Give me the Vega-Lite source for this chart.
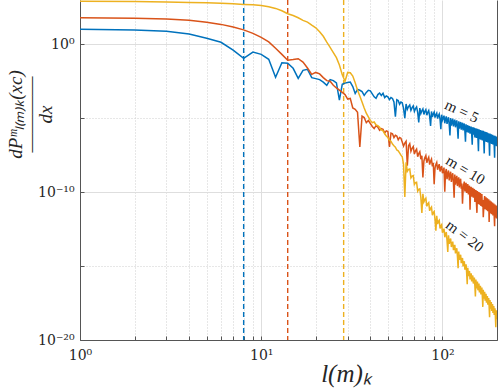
{
"$schema": "https://vega.github.io/schema/vega-lite/v6.json",
"width": 417, "height": 340,
"autosize": {"type": "none"},
"padding": {"left": 80, "top": 0, "right": 1, "bottom": 50},
"background": "white",
"config": {"view": {"stroke": null}},
"datasets": {
"curves": [
{"k":1,"m5":10.7,"m10":63,"m20":810},{"k":2,"m5":9.5,"m10":59,"m20":780},{"k":3,"m5":7.6,"m10":51,"m20":740},{"k":4,"m5":5.0,"m10":42,"m20":690},{"k":5,"m5":2.6,"m10":31,"m20":650},
{"k":6,"m5":1.38,"m10":22.4,"m20":600},{"k":7,"m5":0.4,"m10":15.1,"m20":550},{"k":8,"m5":0.112,"m10":9.5,"m20":500},{"k":9,"m5":0.30,"m10":5.5,"m20":470},{"k":10,"m5":0.21,"m10":2.95,"m20":430},
{"k":11,"m5":0.098,"m10":1.48,"m20":350},{"k":12,"m5":0.0059,"m10":0.54,"m20":270},{"k":13,"m5":0.0575,"m10":0.21,"m20":186},{"k":14,"m5":0.0525,"m10":0.083,"m20":117},{"k":15,"m5":0.024,"m10":0.093,"m20":89},
{"k":16,"m5":0.005,"m10":0.107,"m20":63},{"k":17,"m5":0.0174,"m10":0.063,"m20":42},{"k":18,"m5":0.0204,"m10":0.025,"m20":32},{"k":19,"m5":0.0056,"m10":0.0093,"m20":20},{"k":20,"m5":0.0048,"m10":0.0126,"m20":13.2},
{"k":21,"m5":0.0041,"m10":0.01,"m20":7.1},{"k":22,"m5":0.0028,"m10":0.0056,"m20":3.5},{"k":23,"m5":0.0017,"m10":0.0035,"m20":1.41},{"k":24,"m5":0.0041,"m10":0.0032,"m20":0.63},{"k":25,"m5":0.0035,"m10":0.0017,"m20":0.28},
{"k":26,"m5":0.0025,"m10":0.00112,"m20":0.126},{"k":27,"m5":1.66e-4,"m10":7.9e-4,"m20":0.04},{"k":28,"m5":0.002,"m10":5.6e-4,"m20":8.9e-3},{"k":29,"m5":0.0024,"m10":4.0e-4,"m20":3.2e-3},{"k":30,"m5":0.0026,"m10":2.0e-4,"m20":1.26e-2},
{"k":31,"m5":0.0028,"m10":2.2e-4,"m20":1.2e-2},{"k":32,"m5":0.0014,"m10":5.0e-5,"m20":7.1e-3},{"k":33,"m5":4.7e-4,"m10":4.0e-5,"m20":2.5e-3},{"k":34,"m5":8.9e-4,"m10":2.5e-5,"m20":7.9e-4},{"k":35,"m5":7.8e-4,"m10":1.15e-7,"m20":3.2e-4},
{"k":36,"m5":6.3e-4,"m10":1.4e-5,"m20":1.26e-4},{"k":37,"m5":3.5e-4,"m10":1.12e-5,"m20":5.0e-5},{"k":38,"m5":5.6e-4,"m10":5.0e-6,"m20":2.2e-5},{"k":39,"m5":7.8e-4,"m10":7.1e-6,"m20":1.26e-5},{"k":40,"m5":7.1e-4,"m10":4.4e-6,"m20":7.2e-6},
{"k":41,"m5":4.5e-4,"m10":2.8e-6,"m20":5.0e-6},{"k":42,"m5":2.8e-4,"m10":2.0e-6,"m20":5.6e-6},{"k":43,"m5":2.2e-4,"m10":3.2e-6,"m20":3.5e-6},{"k":44,"m5":4.0e-4,"m10":2.5e-6,"m20":3.2e-6},{"k":45,"m5":5.0e-4,"m10":1.55e-6,"m20":2.5e-6},
{"k":46,"m5":3.5e-4,"m10":2.0e-6,"m20":1.6e-6},{"k":47,"m5":4.9e-4,"m10":1.8e-6,"m20":1.4e-6},{"k":48,"m5":2.5e-4,"m10":1.0e-6,"m20":8.9e-7},{"k":49,"m5":3.2e-4,"m10":1.4e-6,"m20":6.3e-7},{"k":50,"m5":2.8e-4,"m10":1.26e-6,"m20":5.0e-7},
{"k":51,"m5":1.8e-4,"m10":1.15e-7,"m20":3.2e-7},{"k":52,"m5":2.5e-4,"m10":1.0e-6,"m20":2.8e-7},{"k":53,"m5":2.2e-4,"m10":8.9e-7,"m20":1.8e-7},{"k":54,"m5":1.26e-4,"m10":5.0e-7,"m20":1.4e-7},{"k":55,"m5":1.26e-5,"m10":7.1e-7,"m20":1.12e-7},
{"k":56,"m5":1.8e-4,"m10":6.3e-7,"m20":7.1e-8},{"k":57,"m5":1.6e-4,"m10":3.5e-7,"m20":6.3e-8},{"k":58,"m5":8.9e-5,"m10":5.0e-7,"m20":4.5e-8},{"k":59,"m5":1.26e-4,"m10":4.5e-7,"m20":3.2e-8},{"k":60,"m5":1.12e-4,"m10":2.5e-7,"m20":2.5e-8},
{"k":61,"m5":4.7e-5,"m10":1.3e-7,"m20":7.4e-9},{"k":62,"m5":1.0e-5,"m10":2.1e-7,"m20":4.7e-11},{"k":63,"m5":9.3e-5,"m10":2.8e-7,"m20":1.05e-8},{"k":64,"m5":4.0e-5,"m10":6.2e-9,"m20":2.6e-9},{"k":65,"m5":6.2e-5,"m10":1.4e-7,"m20":3.5e-9},
{"k":66,"m5":7.9e-5,"m10":1.9e-7,"m20":3.7e-9},{"k":67,"m5":3.4e-5,"m10":5.8e-8,"m20":9.3e-10},{"k":68,"m5":5.2e-5,"m10":9.3e-8,"m20":1.23e-9},{"k":69,"m5":6.8e-5,"m10":1.23e-7,"m20":1.32e-9},{"k":70,"m5":2.9e-5,"m10":3.8e-8,"m20":3.3e-10},
{"k":71,"m5":4.5e-5,"m10":6.2e-8,"m20":4.4e-10},{"k":72,"m5":5.8e-5,"m10":8.1e-8,"m20":4.7e-10},{"k":73,"m5":2.5e-5,"m10":2.5e-8,"m20":1.17e-10},{"k":74,"m5":5.2e-6,"m10":4.1e-8,"m20":1.55e-10},{"k":75,"m5":4.9e-5,"m10":5.4e-8,"m20":1.66e-10},
{"k":76,"m5":2.1e-5,"m10":1.7e-8,"m20":4.4e-11},{"k":77,"m5":3.2e-5,"m10":2.9e-8,"m20":3.9e-12},{"k":78,"m5":4.3e-5,"m10":1.0e-9,"m20":7.8e-11},{"k":79,"m5":1.8e-5,"m10":1.3e-8,"m20":2.2e-11},{"k":80,"m5":2.9e-5,"m10":2.2e-8,"m20":3.2e-11},
{"k":81,"m5":3.8e-5,"m10":3.0e-8,"m20":3.9e-11},{"k":82,"m5":1.6e-5,"m10":9.8e-9,"m20":1.1e-11},{"k":83,"m5":2.5e-5,"m10":1.66e-8,"m20":1.6e-11},{"k":84,"m5":3.3e-5,"m10":2.3e-8,"m20":1.95e-11},{"k":85,"m5":1.4e-5,"m10":7.4e-9,"m20":5.5e-12},
{"k":86,"m5":3.0e-6,"m10":1.26e-8,"m20":8.1e-12},{"k":87,"m5":2.9e-5,"m10":1.74e-8,"m20":9.8e-12},{"k":88,"m5":1.23e-5,"m10":5.6e-9,"m20":2.75e-12},{"k":89,"m5":1.95e-5,"m10":9.8e-9,"m20":4.2e-12},{"k":90,"m5":2.6e-5,"m10":3.4e-10,"m20":5.0e-12},
{"k":91,"m5":1.1e-5,"m10":4.4e-9,"m20":1.4e-12},{"k":92,"m5":1.7e-5,"m10":7.4e-9,"m20":2.5e-13},{"k":93,"m5":2.2e-5,"m10":1.02e-8,"m20":2.5e-12},{"k":94,"m5":9.5e-6,"m10":3.3e-9,"m20":7.1e-13},{"k":95,"m5":1.5e-5,"m10":5.6e-9,"m20":1.05e-12},
{"k":96,"m5":1.95e-5,"m10":7.8e-9,"m20":1.26e-12},{"k":97,"m5":8.5e-6,"m10":2.5e-9,"m20":3.5e-13},{"k":98,"m5":1.8e-6,"m10":4.3e-9,"m20":5.2e-13},{"k":99,"m5":1.74e-5,"m10":5.9e-9,"m20":6.3e-13},{"k":100,"m5":7.4e-6,"m10":1.9e-9,"m20":1.8e-13},
{"k":101,"m5":1.0e-5,"m10":2.7e-9,"m20":2.5e-13},{"k":102,"m5":1.5e-5,"m10":4.6e-9,"m20":3.4e-13},{"k":103,"m5":4.6e-6,"m10":1.07e-10,"m20":8.9e-14},{"k":104,"m5":8.9e-6,"m10":2.2e-9,"m20":1.5e-13},{"k":105,"m5":1.35e-5,"m10":3.7e-9,"m20":2.0e-13},
{"k":106,"m5":4.1e-6,"m10":7.6e-10,"m20":5.4e-14},{"k":107,"m5":7.8e-6,"m10":1.74e-9,"m20":9.1e-15},{"k":108,"m5":1.17e-5,"m10":2.95e-9,"m20":1.23e-13},{"k":109,"m5":3.6e-6,"m10":6.2e-10,"m20":3.2e-14},{"k":110,"m5":6.9e-7,"m10":1.4e-9,"m20":5.5e-14},
{"k":111,"m5":1.05e-5,"m10":2.4e-9,"m20":7.4e-14},{"k":112,"m5":3.2e-6,"m10":5.0e-10,"m20":1.95e-14},{"k":113,"m5":6.0e-6,"m10":1.15e-9,"m20":3.3e-14},{"k":114,"m5":9.3e-6,"m10":1.9e-9,"m20":4.5e-14},{"k":115,"m5":2.8e-6,"m10":4.0e-10,"m20":1.2e-14},
{"k":116,"m5":5.4e-6,"m10":4.2e-11,"m20":2.0e-14},{"k":117,"m5":8.1e-6,"m10":1.55e-9,"m20":2.7e-14},{"k":118,"m5":2.45e-6,"m10":3.2e-10,"m20":7.2e-15},{"k":119,"m5":4.8e-6,"m10":7.4e-10,"m20":1.2e-14},{"k":120,"m5":7.2e-6,"m10":1.26e-9,"m20":1.6e-14},
{"k":121,"m5":2.2e-6,"m10":2.6e-10,"m20":4.4e-15},{"k":122,"m5":4.2e-7,"m10":5.9e-10,"m20":7.2e-16},{"k":123,"m5":6.3e-6,"m10":1.0e-9,"m20":9.8e-15},{"k":124,"m5":1.95e-6,"m10":2.1e-10,"m20":2.6e-15},{"k":125,"m5":3.7e-6,"m10":4.8e-10,"m20":4.4e-15},
{"k":126,"m5":5.6e-6,"m10":8.1e-10,"m20":5.9e-15},{"k":127,"m5":1.7e-6,"m10":1.7e-10,"m20":1.6e-15},{"k":128,"m5":3.2e-6,"m10":3.9e-10,"m20":2.6e-15},{"k":129,"m5":5.0e-6,"m10":1.66e-11,"m20":3.5e-15},{"k":130,"m5":1.5e-6,"m10":1.38e-10,"m20":9.5e-16},
{"k":131,"m5":2.9e-6,"m10":3.1e-10,"m20":1.6e-15},{"k":132,"m5":4.4e-6,"m10":5.2e-10,"m20":2.1e-15},{"k":133,"m5":1.32e-6,"m10":1.1e-10,"m20":5.8e-16},{"k":134,"m5":2.6e-7,"m10":2.5e-10,"m20":9.8e-16},{"k":135,"m5":3.9e-6,"m10":4.3e-10,"m20":1.3e-15},
{"k":136,"m5":1.17e-6,"m10":8.9e-11,"m20":3.5e-16},{"k":137,"m5":2.2e-6,"m10":2.0e-10,"m20":5.9e-17},{"k":138,"m5":3.4e-6,"m10":3.5e-10,"m20":7.8e-16},{"k":139,"m5":1.05e-6,"m10":7.1e-11,"m20":2.1e-16},{"k":140,"m5":2.0e-6,"m10":1.6e-10,"m20":3.5e-16},
{"k":141,"m5":3.0e-6,"m10":2.75e-10,"m20":4.7e-16},{"k":142,"m5":9.1e-7,"m10":6.5e-12,"m20":1.26e-16},{"k":143,"m5":1.8e-6,"m10":1.35e-10,"m20":2.2e-16},{"k":144,"m5":2.75e-6,"m10":2.3e-10,"m20":3.2e-16},{"k":145,"m5":8.3e-7,"m10":4.9e-11,"m20":9.1e-17},
{"k":146,"m5":1.6e-7,"m10":1.15e-10,"m20":1.6e-16},{"k":147,"m5":2.5e-6,"m10":1.95e-10,"m20":2.3e-16},{"k":148,"m5":7.8e-7,"m10":4.2e-11,"m20":6.6e-17},{"k":149,"m5":1.5e-6,"m10":9.8e-11,"m20":1.2e-16},{"k":150,"m5":2.3e-6,"m10":1.66e-10,"m20":1.7e-16},
{"k":151,"m5":5.0e-7,"m10":2.2e-11,"m20":4.3e-17},{"k":152,"m5":1.2e-6,"m10":6.8e-11,"m20":8.7e-18},{"k":153,"m5":2.1e-6,"m10":1.4e-10,"m20":1.23e-16},{"k":154,"m5":4.6e-7,"m10":1.9e-11,"m20":3.1e-17},{"k":155,"m5":1.1e-6,"m10":4.0e-12,"m20":6.0e-17},
{"k":156,"m5":1.95e-6,"m10":1.2e-10,"m20":8.9e-17},{"k":157,"m5":4.3e-7,"m10":1.6e-11,"m20":2.3e-17},{"k":158,"m5":5.8e-8,"m10":4.9e-11,"m20":4.4e-17},{"k":159,"m5":1.8e-6,"m10":1.02e-10,"m20":6.5e-17},{"k":160,"m5":3.9e-7,"m10":1.4e-11,"m20":1.66e-17},
{"k":161,"m5":9.3e-7,"m10":4.2e-11,"m20":3.2e-17},{"k":162,"m5":1.6e-6,"m10":8.7e-11,"m20":4.7e-17},{"k":163,"m5":3.5e-7,"m10":1.17e-11,"m20":1.2e-17},{"k":164,"m5":8.5e-7,"m10":3.5e-11,"m20":2.3e-17},{"k":165,"m5":1.5e-6,"m10":7.4e-11,"m20":3.5e-17},
{"k":166,"m5":3.2e-7,"m10":9.8e-12,"m20":8.7e-18},{"k":167,"m5":7.8e-7,"m10":3.0e-11,"m20":1.74e-18},{"k":168,"m5":1.4e-6,"m10":2.0e-12,"m20":2.5e-17},{"k":169,"m5":3.0e-7,"m10":8.3e-12,"m20":6.3e-18},{"k":170,"m5":4.2e-8,"m10":2.6e-11,"m20":1.23e-17},
{"k":171,"m5":1.26e-6,"m10":5.4e-11,"m20":1.8e-17},{"k":172,"m5":2.75e-7,"m10":7.1e-12,"m20":4.6e-18},{"k":173,"m5":6.6e-7,"m10":2.2e-11,"m20":8.9e-18},{"k":174,"m5":1.17e-6,"m10":4.6e-11,"m20":1.32e-17},{"k":175,"m5":2.5e-7,"m10":6.0e-12,"m20":3.3e-18},
{"k":176,"m5":6.0e-7,"m10":1.9e-11,"m20":6.5e-18},{"k":177,"m5":1.07e-6,"m10":3.9e-11,"m20":9.5e-18},{"k":178,"m5":2.3e-7,"m10":5.1e-12,"m20":2.45e-18},{"k":179,"m5":5.5e-7,"m10":1.6e-11,"m20":4.7e-18},{"k":180,"m5":9.8e-7,"m10":3.3e-11,"m20":6.9e-18},
{"k":181,"m5":2.1e-7,"m10":9.8e-13,"m20":1.8e-18},{"k":182,"m5":2.95e-8,"m10":1.35e-11,"m20":3.5e-19},{"k":183,"m5":9.1e-7,"m10":2.75e-11,"m20":5.0e-18},{"k":184,"m5":1.95e-7,"m10":3.7e-12,"m20":1.3e-18},{"k":185,"m5":4.7e-7,"m10":1.15e-11,"m20":2.45e-18},
{"k":186,"m5":8.3e-7,"m10":2.3e-11,"m20":3.7e-18},{"k":187,"m5":1.8e-7,"m10":3.2e-12,"m20":9.3e-19},{"k":188,"m5":4.3e-7,"m10":9.8e-12,"m20":1.8e-18},{"k":189,"m5":7.6e-7,"m10":2.0e-11,"m20":2.7e-18},{"k":190,"m5":1.66e-7,"m10":2.7e-12,"m20":6.8e-19},
{"k":191,"m5":4.0e-7,"m10":8.3e-12,"m20":1.3e-18},{"k":192,"m5":6.9e-7,"m10":1.7e-11,"m20":1.95e-18},{"k":193,"m5":1.5e-7,"m10":2.3e-12,"m20":4.9e-19},{"k":194,"m5":2.1e-8,"m10":4.9e-13,"m20":9.5e-19},{"k":195,"m5":6.5e-7,"m10":1.45e-11,"m20":1.4e-18},
{"k":196,"m5":1.4e-7,"m10":1.95e-12,"m20":3.5e-19},{"k":197,"m5":3.3e-7,"m10":6.0e-12,"m20":7.2e-20},{"k":198,"m5":5.9e-7,"m10":1.23e-11,"m20":1.02e-18},{"k":199,"m5":1.3e-7,"m10":1.66e-12,"m20":2.6e-19},{"k":200,"m5":3.1e-7,"m10":5.1e-12,"m20":5.0e-19}
],
"cuts": [{"m":"m5","k":8},{"m":"m10","k":14},{"m":"m20","k":28.5}],
"labels": [{"m":"m5","t":"m = 5","k":128,"v":3.0e-5},{"m":"m10","t":"m = 10","k":134,"v":3.2e-9},{"m":"m20","t":"m = 20","k":133,"v":1.1e-13}]
},
"layer": [
{
"data": {"name": "cuts"},
"mark": {"type": "rule", "strokeDash": [5, 3], "strokeWidth": 1.4},
"encoding": {
"x": {"field": "k", "type": "quantitative", "scale": {"type": "log", "domain": [1, 200], "nice": false}},
"color": {"field": "m", "type": "nominal", "scale": {"domain": ["m5", "m10", "m20"], "range": ["#0072BD", "#D95319", "#EDB120"]}, "legend": null}
}
},
{
"data": {"name": "curves"},
"transform": [{"fold": ["m5", "m10", "m20"], "as": ["m", "v"]}],
"mark": {"type": "line", "strokeWidth": 1.5, "clip": true},
"encoding": {
"x": {"field": "k", "type": "quantitative", "scale": {"type": "log", "domain": [1, 200], "nice": false},
"axis": {
"values": [1,2,3,4,5,6,7,8,9,10,20,30,40,50,60,70,80,90,100],
"labelExpr": "datum.value == 1 ? '10⁰' : datum.value == 10 ? '10¹' : datum.value == 100 ? '10²' : ''",
"labelFont": "DejaVu Serif", "labelFontSize": 14, "labelColor": "#262626", "labelPadding": 12, "labelOverlap": false, "labelFlush": false, "labelBound": false,
"grid": true,
"gridColor": {"condition": {"test": "datum.value == 1 || datum.value == 10 || datum.value == 100", "value": "#dedede"}, "value": "#cfcfcf"},
"gridDash": {"condition": {"test": "datum.value == 1 || datum.value == 10 || datum.value == 100", "value": []}, "value": [1, 2]},
"tickSize": -4, "tickColor": "#555555", "domainColor": "#555555",
"title": "l(m)ₖ", "titleFont": "Liberation Serif", "titleFontStyle": "italic", "titleFontWeight": "normal", "titleFontSize": 25, "titleColor": "#262626",
"titleX": 266, "titleY": 41, "titleAlign": "center", "titleBaseline": "alphabetic"
}},
"y": {"field": "v", "type": "quantitative", "scale": {"type": "log", "domain": [1e-20, 1e3], "nice": false},
"axis": {
"values": [1e-20, 1e-15, 1e-10, 1e-5, 1],
"labelExpr": "datum.value > 0.5 ? '10⁰' : (datum.value > 5e-11 && datum.value < 5e-10) ? '10⁻¹⁰' : datum.value < 5e-20 ? '10⁻²⁰' : ''",
"labelFont": "DejaVu Serif", "labelFontSize": 14, "labelColor": "#262626", "labelPadding": 10, "labelOverlap": false, "labelFlush": false, "labelBound": false,
"grid": true,
"gridColor": {"condition": {"test": "datum.value > 0.5 || (datum.value > 5e-11 && datum.value < 5e-10) || datum.value < 5e-20", "value": "#dedede"}, "value": "#cfcfcf"},
"gridDash": {"condition": {"test": "datum.value > 0.5 || (datum.value > 5e-11 && datum.value < 5e-10) || datum.value < 5e-20", "value": []}, "value": [1, 2]},
"tickSize": -4, "tickColor": "#555555", "domainColor": "#555555",
"title": ["dPᵐₗ₍ₘ₎ₖ(xc)", "――――", "dx"], "titleFont": "Liberation Serif", "titleFontStyle": "italic", "titleFontWeight": "normal", "titleFontSize": 19, "titleColor": "#262626", "titleLineHeight": 15,
"titleX": -65, "titleY": 114, "titleAngle": -90, "titleAlign": "center", "titleBaseline": "middle"
}},
"color": {"field": "m", "type": "nominal", "scale": {"domain": ["m5", "m10", "m20"], "range": ["#0072BD", "#D95319", "#EDB120"]}, "legend": null}
}
},
{
"data": {"name": "labels"},
"mark": {"type": "text", "font": "Liberation Serif", "fontSize": 15, "color": "#1a1a1a", "align": "center", "baseline": "middle"},
"encoding": {
"x": {"field": "k", "type": "quantitative", "scale": {"type": "log", "domain": [1, 200], "nice": false}},
"y": {"field": "v", "type": "quantitative", "scale": {"type": "log", "domain": [1e-20, 1e3], "nice": false},
"axis": {"orient": "right", "values": [1e-20, 1e-15, 1e-10, 1e-5, 1], "labels": false, "grid": false, "tickSize": -4, "tickColor": "#555555", "domainColor": "#555555", "title": null}},
"text": {"field": "t"},
"angle": {"field": "m", "type": "nominal", "scale": {"domain": ["m5", "m10", "m20"], "range": [25, 37, 50]}, "legend": null}
}
}
],
"resolve": {"axis": {"y": "independent"}}
}
